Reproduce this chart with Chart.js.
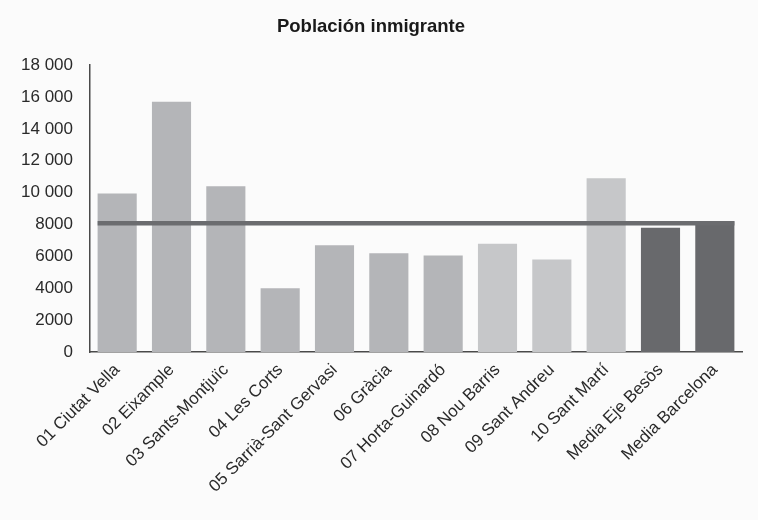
<!DOCTYPE html>
<html>
<head>
<meta charset="utf-8">
<script src="https://cdn.jsdelivr.net/npm/chart.js@4.4.1/dist/chart.umd.min.js"></script>
<style>
  body { margin: 0; background: #fbfbfb; }
  .chart { width: 758px; height: 520px; }
</style>
</head>
<body>
<div class="chart"><canvas id="chart"></canvas></div>
<script>
const distritos = [
  '01 Ciutat Vella', '02 Eixample', '03 Sants-Montjuïc', '04 Les Corts',
  '05 Sarrià-Sant Gervasi', '06 Gràcia', '07 Horta-Guinardó', '08 Nou Barris',
  '09 Sant Andreu', '10 Sant Martí', 'Media Eje Besòs', 'Media Barcelona'
];
const inmigrantes = [9950, 15700, 10400, 4000, 6700, 6200, 6050, 6800, 5800, 10900, 7800, 8200];
const mediaLinea = 8080;
const yTicks = [0, 2000, 4000, 6000, 8000, 10000, 12000, 14000, 16000, 18000];

const barColors = [
  '#b4b5b8', '#b4b5b8', '#b4b5b8', '#b4b5b8', '#b4b5b8', '#b4b5b8', '#b4b5b8',
  '#c6c7c9', '#c6c7c9', '#c6c7c9', '#68696c', '#68696c'
];

const barPct = 0.72;
const fmt = (v) => v >= 10000 ? String(v).replace(/(\d+)(\d{3})$/, '$1 $2') : String(v);

const ctx = document.getElementById('chart').getContext('2d');
new Chart(ctx, {
  data: {
    labels: distritos,
    datasets: [
      {
        type: 'line',
        data: [
          { x: -barPct / 2, y: mediaLinea },
          { x: distritos.length - 1 + barPct / 2, y: mediaLinea }
        ],
        xAxisID: 'xl',
        borderColor: '#6b6c6f',
        borderWidth: 4.5,
        pointRadius: 0,
        order: 0
      },
      {
        type: 'bar',
        data: inmigrantes,
        backgroundColor: barColors,
        barPercentage: barPct,
        categoryPercentage: 1,
        grouped: false,
        order: 1
      }
    ]
  },
  options: {
    responsive: true,
    maintainAspectRatio: false,
    animation: false,
    layout: { padding: { left: 0, right: 16, top: 0, bottom: 0 } },
    plugins: {
      legend: { display: false },
      tooltip: { enabled: false },
      title: {
        display: true,
        text: 'Población inmigrante',
        color: '#1a1a1a',
        font: { family: 'Liberation Sans, Arial, sans-serif', size: 18.5, weight: 'bold' },
        padding: { top: 16, bottom: 27 }
      }
    },
    scales: {
      x: {
        type: 'category',
        grid: { display: false, drawTicks: false },
        border: { display: true, color: '#4a4a4a', width: 1.5 },
        ticks: {
          autoSkip: false,
          minRotation: 45,
          maxRotation: 45,
          padding: 8,
          color: '#2a2a2a',
          font: { family: 'Liberation Sans, Arial, sans-serif', size: 17 }
        },
        afterFit: (scale) => { scale.height = 168; }
      },
      xl: {
        type: 'linear',
        display: false,
        min: -0.5,
        max: distritos.length - 0.5
      },
      y: {
        min: 0,
        max: 18000,
        afterBuildTicks: (scale) => { scale.ticks = yTicks.map(v => ({ value: v })); },
        grid: { display: false, drawTicks: false },
        border: { display: true, color: '#4a4a4a', width: 1.5 },
        ticks: {
          padding: 17,
          color: '#2a2a2a',
          font: { family: 'Liberation Sans, Arial, sans-serif', size: 17 },
          callback: (v) => fmt(v)
        },
        afterFit: (scale) => { scale.width = 90; }
      }
    }
  }
});
</script>
</body>
</html>
